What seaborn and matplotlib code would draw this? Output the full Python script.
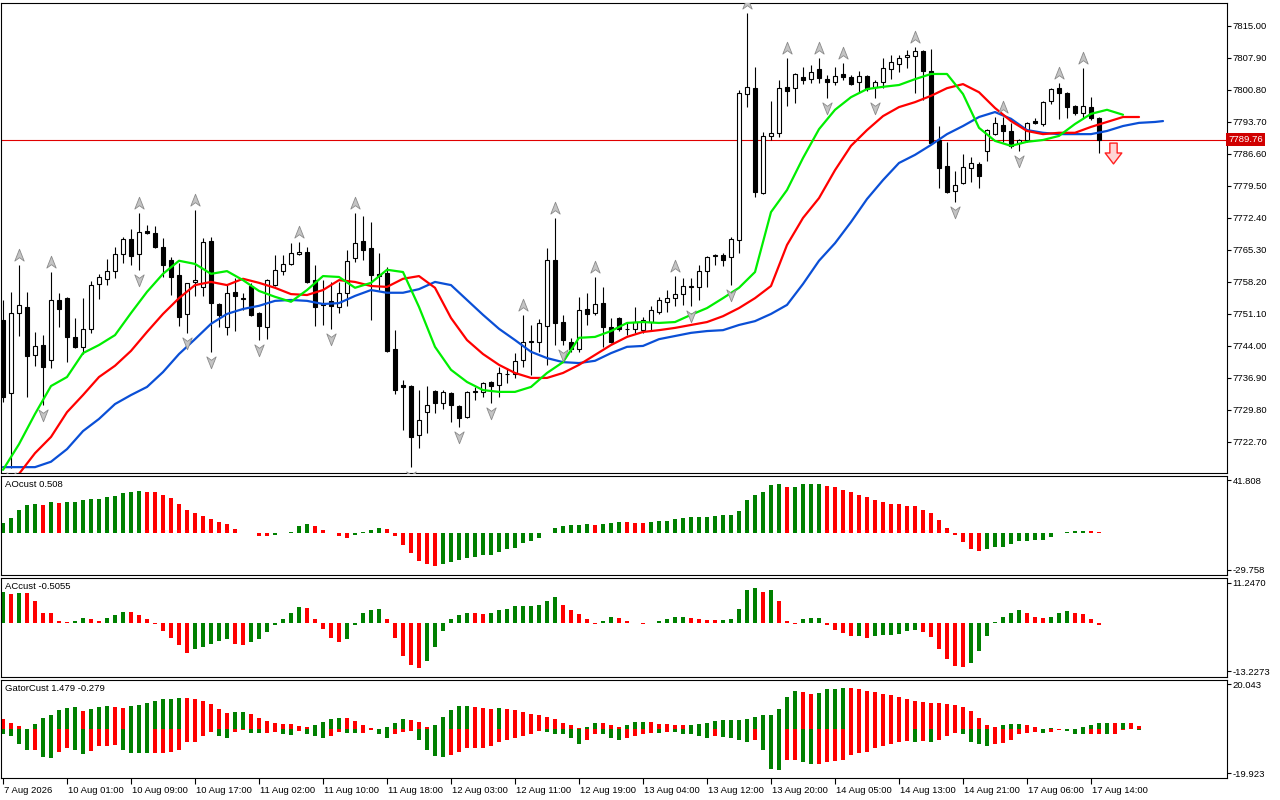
import numpy as np
import matplotlib
matplotlib.use("Agg")
import matplotlib.pyplot as plt
from matplotlib.path import Path
from matplotlib import transforms
import seaborn as sns

# ---- H1 candles, oldest first ----
opens = [7749.8, 7733.6, 7751.3, 7752.6, 7742.0, 7744.2, 7740.9, 7754.2, 7754.6, 7746.0,
         7743.8, 7747.8, 7757.7, 7758.9, 7760.6, 7764.4, 7767.7, 7764.4, 7769.5, 7769.1,
         7766.0, 7763.1, 7759.7, 7751.1, 7758.2, 7757.1, 7767.3, 7753.3, 7748.2, 7756.0,
         7754.6, 7757.3, 7751.3, 7748.2, 7757.5, 7760.6, 7762.2, 7764.4, 7764.9, 7758.6,
         7753.5, 7754.0, 7752.6, 7755.8, 7763.5, 7767.3, 7765.7, 7760.0, 7760.2, 7743.3,
         7735.3, 7735.1, 7724.2, 7729.3, 7734.0, 7731.3, 7733.6, 7730.7, 7728.2, 7733.8,
         7733.8, 7736.0, 7735.3, 7737.8, 7737.8, 7740.9, 7744.9, 7744.9, 7748.4, 7763.1,
         7749.3, 7744.9, 7743.3, 7752.2, 7751.3, 7753.5, 7748.2, 7750.2, 7747.8, 7747.8,
         7747.5, 7749.3, 7751.5, 7753.8, 7754.6, 7755.5, 7757.1, 7757.1, 7760.6, 7764.0,
         7764.2, 7763.7, 7767.5, 7799.9, 7801.2, 7778.0, 7790.6, 7791.3, 7801.5, 7801.2,
         7803.7, 7803.2, 7805.5, 7803.2, 7802.6, 7804.35, 7803.7, 7802.6, 7803.9, 7801.5,
         7802.6, 7805.5, 7806.6, 7808.1, 7808.3, 7809.5, 7805.0, 7789.7, 7783.9, 7778.4,
         7780.2, 7783.5, 7784.4, 7787.3, 7791.0, 7793.0, 7791.7, 7789.0, 7789.7, 7793.9,
         7793.25, 7798.4, 7801.2, 7800.1, 7797.2, 7795.7, 7797.0, 7794.6]
highs = [7754.2, 7756.0, 7762.0, 7756.0, 7747.1, 7746.4, 7760.4, 7755.8, 7754.8, 7750.2,
         7754.6, 7758.4, 7760.0, 7763.3, 7766.0, 7768.2, 7769.9, 7773.5, 7770.8, 7770.6,
         7768.0, 7763.7, 7762.4, 7758.0, 7774.2, 7768.0, 7768.2, 7753.5, 7757.5, 7759.1,
         7755.8, 7758.0, 7751.5, 7758.8, 7764.2, 7764.2, 7766.8, 7767.1, 7766.0, 7762.0,
         7758.6, 7758.2, 7758.2, 7765.3, 7773.5, 7772.8, 7771.5, 7764.6, 7761.5, 7747.5,
         7736.4, 7735.3, 7734.2, 7735.1, 7734.2, 7734.2, 7733.8, 7730.9, 7733.9, 7734.9,
         7736.0, 7736.2, 7739.3, 7739.1, 7742.4, 7750.9, 7748.65, 7750.0, 7765.7, 7772.4,
         7750.9, 7745.8, 7754.9, 7755.8, 7759.3, 7757.1, 7750.2, 7750.4, 7749.1, 7752.6,
         7750.4, 7752.9, 7754.9, 7756.4, 7759.5, 7759.1, 7759.1, 7762.0, 7764.0, 7764.4,
         7764.6, 7768.2, 7800.8, 7817.9, 7805.9, 7791.5, 7798.4, 7803.0, 7807.9, 7804.6,
         7805.9, 7806.3, 7807.9, 7804.1, 7805.9, 7806.8, 7804.1, 7805.0, 7804.1, 7803.0,
         7807.9, 7808.6, 7808.6, 7809.7, 7810.3, 7809.7, 7809.9, 7792.8, 7789.3, 7782.8,
         7786.6, 7785.9, 7784.8, 7792.1, 7794.8, 7794.8, 7793.5, 7789.9, 7793.7, 7794.6,
         7798.3, 7801.2, 7802.4, 7800.3, 7797.4, 7805.7, 7799.25, 7794.8]
lows = [7731.5, 7717.0, 7746.2, 7732.7, 7739.6, 7730.9, 7739.1, 7748.2, 7740.4, 7743.6,
        7742.2, 7746.9, 7754.4, 7757.5, 7759.1, 7762.4, 7762.0, 7760.9, 7768.9, 7765.7,
        7759.3, 7755.3, 7748.4, 7746.9, 7755.1, 7755.1, 7742.7, 7748.2, 7746.4, 7747.3,
        7752.0, 7750.7, 7745.3, 7745.5, 7757.3, 7759.7, 7762.0, 7764.2, 7758.0, 7748.4,
        7748.65, 7747.8, 7751.3, 7752.9, 7762.6, 7763.1, 7749.8, 7756.4, 7742.7, 7733.3,
        7725.3, 7717.1, 7721.4, 7724.7, 7729.1, 7730.0, 7727.1, 7726.0, 7728.0, 7732.0,
        7732.7, 7731.3, 7732.7, 7735.8, 7736.9, 7739.3, 7737.6, 7742.7, 7739.8, 7744.2,
        7744.2, 7742.7, 7742.7, 7748.65, 7750.9, 7743.8, 7744.7, 7747.3, 7746.4, 7746.9,
        7746.9, 7747.5, 7751.1, 7751.5, 7752.9, 7753.1, 7752.9, 7754.2, 7757.1, 7762.0,
        7761.7, 7757.5, 7764.6, 7797.0, 7777.1, 7777.8, 7789.7, 7790.4, 7797.2, 7797.9,
        7802.1, 7802.4, 7802.4, 7799.0, 7801.9, 7803.0, 7801.9, 7800.4, 7800.6, 7799.0,
        7801.2, 7803.2, 7804.8, 7805.7, 7800.1, 7798.6, 7788.8, 7779.05, 7778.0, 7775.9,
        7780.0, 7780.4, 7779.05, 7785.0, 7790.8, 7789.3, 7787.9, 7787.3, 7789.3, 7793.25,
        7792.8, 7797.7, 7794.4, 7794.6, 7795.2, 7794.6, 7794.1, 7786.8]
closes = [7732.7, 7751.3, 7753.1, 7741.8, 7744.0, 7739.3, 7754.2, 7752.2, 7746.0, 7743.8,
          7747.8, 7757.5, 7759.3, 7760.6, 7764.4, 7767.7, 7764.0, 7769.3, 7769.1, 7766.0,
          7762.0, 7759.3, 7750.4, 7758.0, 7758.6, 7767.1, 7753.5, 7750.9, 7755.8, 7755.1,
          7754.4, 7750.9, 7748.4, 7758.6, 7760.9, 7762.2, 7764.6, 7764.9, 7758.2, 7752.6,
          7753.1, 7752.9, 7755.8, 7762.9, 7766.8, 7765.3, 7759.7, 7759.5, 7742.9, 7734.2,
          7734.9, 7723.8, 7727.6, 7730.9, 7731.3, 7733.8, 7730.9, 7728.0, 7733.8, 7733.9,
          7735.8, 7735.1, 7738.0, 7737.7, 7740.7, 7744.9, 7745.0, 7749.1, 7763.1, 7749.1,
          7745.3, 7743.3, 7752.0, 7751.1, 7753.3, 7748.2, 7744.9, 7747.8, 7747.7, 7749.3,
          7749.8, 7752.0, 7754.2, 7754.6, 7755.5, 7757.3, 7757.2, 7760.6, 7763.7, 7764.1,
          7763.1, 7767.7, 7800.1, 7801.5, 7778.2, 7790.6, 7791.3, 7801.2, 7800.6, 7804.3,
          7803.0, 7804.8, 7803.5, 7802.6, 7803.9, 7803.7, 7802.1, 7803.9, 7801.0, 7802.6,
          7805.7, 7807.0, 7807.9, 7808.6, 7809.5, 7805.0, 7789.0, 7783.5, 7778.2, 7779.7,
          7783.7, 7784.6, 7781.7, 7791.9, 7793.5, 7791.7, 7788.4, 7789.7, 7793.5, 7793.5,
          7798.1, 7801.0, 7800.1, 7797.0, 7795.7, 7797.2, 7794.6, 7789.76]

# ---- Alligator (already shifted forward), read every 2 bars ----
jaw_bars = list(range(0, 145, 2)) + [145]
jaw = [7717.1, 7717.1, 7717.1, 7718.3, 7721.1, 7725.1, 7727.8, 7731.1, 7733.1, 7734.9,
       7738.2, 7742.2, 7745.5, 7748.9, 7751.1, 7752.2, 7752.9, 7754.0, 7754.2, 7754.0,
       7753.3, 7753.5, 7755.1, 7756.4, 7755.8, 7755.8, 7756.6, 7758.2, 7757.5, 7754.2,
       7750.9, 7747.8, 7745.3, 7742.7, 7741.3, 7740.4, 7740.2, 7740.7, 7742.4, 7743.8,
       7744.0, 7745.5, 7746.2, 7746.9, 7747.3, 7747.5, 7748.65, 7749.5, 7751.1, 7753.1,
       7757.75, 7762.9, 7766.8, 7771.5, 7776.6, 7780.8, 7784.6, 7786.4, 7788.6, 7791.0,
       7792.8, 7794.8, 7795.9, 7794.4, 7791.9, 7791.3, 7791.0, 7791.0, 7791.0, 7791.7,
       7792.8, 7793.5, 7793.7, 7793.9]
teeth_bars = list(range(0, 143, 2))
teeth = [7712.0, 7715.6, 7720.2, 7723.8, 7729.3, 7733.1, 7737.1, 7739.6, 7742.9, 7747.1,
         7751.1, 7754.6, 7757.5, 7758.2, 7757.5, 7758.9, 7758.0, 7756.9, 7755.5, 7755.3,
         7756.4, 7758.6, 7758.2, 7757.3, 7757.1, 7758.9, 7759.5, 7756.9, 7750.2, 7745.3,
         7742.2, 7739.8, 7738.0, 7736.9, 7736.9, 7738.0, 7739.8, 7742.0, 7744.2, 7746.0,
         7747.1, 7747.5, 7748.0, 7748.65, 7749.3, 7750.6, 7752.4, 7754.6, 7757.3, 7766.4,
         7772.4, 7776.8, 7783.0, 7788.4, 7791.9, 7795.0, 7797.0, 7798.1, 7799.5, 7801.2,
         7802.1, 7800.3, 7796.8, 7793.9, 7791.7, 7791.0, 7791.3, 7791.3, 7792.6, 7793.7,
         7794.8, 7794.8]
lips_bars = list(range(0, 141, 2))
lips = [7716.5, 7722.2, 7728.9, 7735.1, 7737.1, 7742.4, 7744.2, 7746.4, 7751.3, 7756.0,
        7760.0, 7762.9, 7762.2, 7760.0, 7760.6, 7758.6, 7756.2, 7754.9, 7753.8, 7756.4,
        7759.5, 7759.3, 7756.9, 7758.0, 7760.9, 7760.4, 7752.65, 7743.8, 7738.7, 7736.0,
        7734.2, 7733.8, 7733.8, 7734.9, 7738.0, 7740.4, 7745.8, 7746.0, 7747.3, 7749.1,
        7749.3, 7749.1, 7749.3, 7750.9, 7752.4, 7754.6, 7756.9, 7760.4, 7773.7, 7778.6,
        7785.7, 7792.1, 7796.4, 7799.2, 7801.0, 7801.5, 7801.9, 7803.2, 7804.35, 7804.35,
        7799.9, 7792.4, 7789.5, 7788.4, 7789.3, 7789.7, 7790.6, 7793.25, 7795.5, 7796.4,
        7795.3]

fractal_up = [2, 6, 17, 24, 37, 44, 65, 69, 74, 84, 93, 98, 102, 105, 114, 125, 132, 135]
fractal_down = [1, 5, 17, 23, 26, 32, 41, 51, 57, 61, 70, 86, 91, 103, 109, 119, 127]
sell_bar, sell_price = 139, 7786.9
last_price = 7789.76

# ---- oscillators ----
ao = [8.0, 12.0, 18.1, 22.4, 23.2, 22.4, 24.8, 24.0, 24.1, 24.8,
      26.4, 26.5, 26.6, 28.5, 29.3, 32.0, 32.8, 33.6, 32.8, 32.7,
      30.1, 27.5, 23.2, 18.4, 15.7, 13.3, 11.2, 8.8, 7.2, 3.2,
      -0.3, -0.5, -2.7, -2.8, -1.9, -0.5, 0.3, 5.3, 6.7, 5.3,
      2.1, -0.2, -2.7, -4.5, -1.9, 0.8, 2.4, 4.0, 2.9, -2.7,
      -9.9, -16.0, -22.4, -25.3, -26.4, -25.1, -23.7, -21.9, -20.0, -19.7,
      -17.9, -17.8, -15.2, -13.3, -12.0, -8.5, -6.4, -4.0, -0.5, 4.0,
      5.1, 6.1, 6.4, 6.5, 6.1, 7.0, 8.0, 8.8, 8.5, 8.0,
      7.5, 8.8, 8.9, 9.6, 10.7, 11.5, 12.3, 12.4, 12.8, 12.9,
      13.9, 14.1, 17.6, 26.4, 30.1, 32.8, 38.1, 38.9, 36.3, 36.8,
      39.0, 39.1, 39.2, 37.6, 36.5, 34.4, 32.5, 30.1, 28.5, 26.4,
      24.5, 22.9, 22.7, 21.3, 21.2, 18.4, 16.0, 10.4, 4.0, -1.9,
      -7.7, -12.8, -14.4, -13.3, -11.7, -11.2, -9.3, -6.7, -6.4, -6.3,
      -5.6, -3.7, -0.5, 0.4, 1.0, 1.6, 1.3, 0.508]
ac = [8.7, 8.2, 8.5, 8.45, 6.3, 3.0, 2.8, 0.55, 0.5, 0.55,
      1.6, 1.1, 0.8, 1.6, 2.4, 3.2, 3.15, 2.2, 1.1, -0.2,
      -2.0, -4.0, -5.9, -8.1, -7.2, -6.4, -5.6, -4.8, -4.2, -5.6,
      -5.9, -5.1, -4.2, -2.5, -0.55, 1.1, 2.8, 4.6, 4.3, 1.3,
      -1.65, -3.9, -5.2, -4.2, -0.55, 2.8, 3.8, 3.85, 1.1, -4.0,
      -9.0, -11.6, -12.3, -10.3, -6.5, -2.1, 1.1, 2.2, 2.8, 2.75,
      2.5, 3.0, 3.6, 3.9, 4.7, 4.75, 4.8, 5.1, 6.1, 7.2,
      5.2, 3.6, 2.5, 1.1, -0.2, 0.55, 1.7, 1.4, 0.8, 0.1,
      -0.2, 0.1, 0.8, 1.1, 1.7, 1.9, 1.4, 1.1, 1.05, 0.9,
      1.0, 1.1, 3.9, 9.1, 9.9, 8.8, 9.1, 6.1, 0.8, -0.2,
      1.1, 1.4, 1.45, -0.5, -1.7, -2.6, -3.4, -3.35, -4.0, -3.4,
      -3.2, -3.15, -2.9, -2.1, -1.8, -2.4, -3.8, -7.0, -9.8, -11.7,
      -12.0, -10.9, -7.6, -3.5, 0.3, 1.9, 2.8, 3.6, 2.8, 1.7,
      1.4, 1.9, 3.0, 3.3, 3.0, 2.5, 1.1, -0.5055]
gator_up = [4.3, 2.7, 1.5, 0.1, 2.4, 4.9, 6.3, 8.5, 9.6, 10.0,
            8.1, 9.0, 10.0, 10.3, 9.95, 9.4, 10.35, 10.8, 11.7, 12.6,
            13.5, 13.55, 13.9, 13.85, 13.5, 12.6, 11.2, 9.0, 7.2, 7.6,
            7.65, 6.7, 4.9, 3.6, 2.7, 2.2, 2.15, 1.35, 0.9, 1.8,
            3.1, 4.5, 4.9, 4.85, 3.6, 1.8, 0.45, 0.05, 0.9, 2.7,
            4.5, 4.0, 3.1, 0.9, 1.8, 5.4, 8.5, 10.3, 10.35, 9.9,
            9.4, 9.0, 9.45, 9.0, 8.5, 7.6, 6.7, 6.3, 5.4, 4.5,
            2.7, 1.8, 0.45, 0.9, 2.7, 2.65, 1.8, 0.9, 1.8, 3.1,
            3.15, 3.1, 2.2, 2.15, 1.8, 1.75, 1.8, 2.2, 2.7, 3.6,
            4.0, 4.05, 4.1, 4.5, 5.4, 6.3, 6.35, 9.0, 14.4, 17.1,
            16.6, 15.7, 16.2, 18.0, 18.05, 18.4, 18.35, 18.0, 17.1, 16.6,
            15.7, 15.3, 14.4, 13.5, 12.6, 12.1, 11.7, 11.65, 11.2, 10.8,
            9.9, 8.1, 4.9, 1.8, 0.9, 1.8, 2.2, 2.25, 1.8, 0.9,
            0.05, 0.45, 0.1, 0.05, 0.1, 0.9, 1.8, 2.7, 2.75, 2.7,
            2.75, 2.7, 1.479]
gator_down = [-2.1, -3.4, -7.0, -9.4, -9.3, -12.4, -13.0, -10.3, -8.5, -9.4,
              -11.1, -9.9, -7.9, -7.5, -7.4, -9.4, -10.6, -10.65, -10.9, -10.85,
              -10.6, -10.2, -9.7, -6.1, -5.7, -3.0, -1.35, -3.0, -3.9, -1.2,
              -0.45, -1.65, -1.7, -1.65, -1.2, -2.5, -2.55, -0.75, -2.1, -3.0,
              -3.9, -3.4, -1.2, -1.65, -1.7, -1.65, -0.3, -2.5, -4.3, -2.5,
              -1.2, -0.75, -5.2, -9.3, -12.0, -12.4, -11.5, -10.2, -8.8, -8.75,
              -8.4, -7.5, -6.1, -4.8, -3.9, -3.4, -2.1, -1.0, -1.2, -2.1,
              -2.5, -4.3, -7.0, -5.2, -2.1, -2.5, -3.9, -4.8, -3.9, -3.0,
              -2.5, -1.65, -1.7, -1.2, -1.25, -2.1, -2.5, -3.4, -3.9, -3.4,
              -3.45, -4.3, -5.2, -5.7, -5.2, -9.3, -17.8, -18.3, -13.8, -13.75,
              -14.7, -15.6, -15.55, -14.7, -14.2, -13.8, -11.5, -10.6, -10.2, -8.8,
              -7.9, -6.6, -5.7, -5.65, -5.7, -5.65, -5.7, -4.8, -3.4, -1.65,
              -2.1, -5.7, -7.0, -7.5, -6.6, -6.55, -4.8, -2.5, -1.65, -1.2,
              -1.65, -1.2, -0.3, -0.75, -2.1, -2.5, -2.45, -2.1, -2.5, -2.1,
              -0.3, -0.1, -0.279]

price_ticks = [7815.00, 7807.90, 7800.80, 7793.70, 7786.60, 7779.50, 7772.40,
               7765.30, 7758.20, 7751.10, 7744.00, 7736.90, 7729.80, 7722.70]
time_labels = ["7 Aug 2026", "10 Aug 01:00", "10 Aug 09:00", "10 Aug 17:00", "11 Aug 02:00",
               "11 Aug 10:00", "11 Aug 18:00", "12 Aug 03:00", "12 Aug 11:00", "12 Aug 19:00",
               "13 Aug 04:00", "13 Aug 12:00", "13 Aug 20:00", "14 Aug 05:00", "14 Aug 13:00",
               "14 Aug 21:00", "17 Aug 06:00", "17 Aug 14:00"]

GREEN, RED = "#008000", "#ff0000"

sns.set_theme(style="white")
plt.rcParams["font.family"] = ["Liberation Sans", "DejaVu Sans"]
plt.rcParams["axes.linewidth"] = 0.8

W, H = 1280, 800
fig = plt.figure(figsize=(W / 100, H / 100), dpi=100)


def panel(top, bottom):
    return fig.add_axes([1 / W, 1 - bottom / H, 1226 / W, (bottom - top) / H])


ax = panel(3, 473)
ax_ao = panel(476, 575)
ax_ac = panel(578, 677)
ax_g = panel(680, 778)

for a in (ax, ax_ao, ax_ac, ax_g):
    a.set_xlim(-0.25, 153)
    for s in a.spines.values():
        s.set_color("black")
        s.set_linewidth(0.8)
    a.yaxis.tick_right()
    a.tick_params(axis="y", direction="out", length=3, width=0.8, pad=1,
                  labelsize=6.8, colors="black", right=True, left=False)
    a.set_xlabel("")
    a.set_ylabel("")

# ---- main price panel ----
o = np.array(opens)
c = np.array(closes)
x = np.arange(len(o))
bull = c >= o
ax.axhline(last_price, color="#e00000", lw=0.8, zorder=1)
ax.vlines(x, lows, highs, color="black", lw=0.8, zorder=2)
ax.bar(x[bull], (c - o)[bull], bottom=o[bull], width=0.6, facecolor="white",
       edgecolor="black", linewidth=0.8, zorder=3)
ax.bar(x[~bull], (o - c)[~bull], bottom=c[~bull], width=0.6, facecolor="black",
       edgecolor="black", linewidth=0.8, zorder=3)

sns.lineplot(x=jaw_bars, y=jaw, ax=ax, color="#0a4fd6", lw=1.6, zorder=4, sort=False)
sns.lineplot(x=teeth_bars, y=teeth, ax=ax, color="#ff0000", lw=1.6, zorder=4, sort=False)
sns.lineplot(x=lips_bars, y=lips, ax=ax, color="#00ee00", lw=1.6, zorder=4, sort=False)

head = Path([(0, 1), (0.75, -0.9), (0, -0.35), (-0.75, -0.9), (0, 1)],
            [Path.MOVETO, Path.LINETO, Path.LINETO, Path.LINETO, Path.CLOSEPOLY])
head_dn = head.transformed(transforms.Affine2D().scale(1, -1))
up_tr = transforms.offset_copy(ax.transData, fig=fig, x=0, y=10, units="dots")
dn_tr = transforms.offset_copy(ax.transData, fig=fig, x=0, y=-10, units="dots")
ax.plot(fractal_up, [highs[i] for i in fractal_up], ls="none", marker=head, ms=9,
        mfc="#c4c4c4", mec="#8a8a8a", mew=0.6, transform=up_tr, zorder=5)
ax.plot(fractal_down, [lows[i] for i in fractal_down], ls="none", marker=head_dn, ms=9,
        mfc="#c4c4c4", mec="#8a8a8a", mew=0.6, transform=dn_tr, zorder=5)

block = Path([(-0.35, 1), (0.35, 1), (0.35, 0.05), (0.8, 0.05), (0, -1), (-0.8, 0.05),
              (-0.35, 0.05), (-0.35, 1)],
             [Path.MOVETO] + [Path.LINETO] * 6 + [Path.CLOSEPOLY])
ax.plot([sell_bar - 0.25], [sell_price], ls="none", marker=block, ms=15, mfc="#ffd4d4",
        mec="#ff2020", mew=1.0, zorder=5)

ax.set_ylim(7715.8, 7820.1)
ax.set_yticks(price_ticks)
ax.set_yticklabels([f"{p:.2f}" for p in price_ticks])
ax.set_xticks([])
ax.text(1.0012, last_price, f"{last_price:.2f}", color="white", fontsize=6.8,
        va="center", ha="left",
        transform=transforms.blended_transform_factory(ax.transAxes, ax.transData),
        bbox=dict(boxstyle="square,pad=0.22", fc="#d00000", ec="none"), zorder=6,
        clip_on=False)


# ---- oscillator panels ----
def trend_colors(vals, first, grow=lambda a, b: b > a):
    cols = [first]
    for a, b in zip(vals[:-1], vals[1:]):
        cols.append(GREEN if grow(a, b) else RED)
    return cols


ax_ao.bar(np.arange(len(ao)), ao, width=0.5, color=trend_colors(ao, GREEN), linewidth=0)
ax_ao.set_ylim(-34.0, 45.2)
ax_ao.set_yticks([41.808, -29.758])
ax_ao.set_yticklabels(["41.808", "-29.758"])
ax_ao.set_xticks([])
ax_ao.text(0.0035, 0.955, "AOcust 0.508", transform=ax_ao.transAxes, fontsize=6.8,
           va="top", ha="left", color="black")

ax_ac.bar(np.arange(len(ac)), ac, width=0.5, color=trend_colors(ac, GREEN), linewidth=0)
ax_ac.set_ylim(-14.8, 12.54)
ax_ac.set_yticks([11.2470, -13.2273])
ax_ac.set_yticklabels(["11.2470", "-13.2273"])
ax_ac.set_xticks([])
ax_ac.text(0.0035, 0.955, "ACcust -0.5055", transform=ax_ac.transAxes, fontsize=6.8,
           va="top", ha="left", color="black")

gx = np.arange(len(gator_up))
ax_g.bar(gx, gator_up, width=0.5, color=trend_colors(gator_up, RED), linewidth=0)
ax_g.bar(gx, gator_down, width=0.5,
         color=trend_colors(gator_down, GREEN, lambda a, b: abs(b) > abs(a)), linewidth=0)
ax_g.set_ylim(-22.05, 21.96)
ax_g.set_yticks([20.043, -19.923])
ax_g.set_yticklabels(["20.043", "-19.923"])
ax_g.text(0.0035, 0.955, "GatorCust 1.479 -0.279", transform=ax_g.transAxes, fontsize=6.8,
          va="top", ha="left", color="black")

tick_pos = np.arange(0, 8 * len(time_labels), 8)
ax_g.set_xticks(tick_pos)
ax_g.set_xticklabels(time_labels, ha="left", fontsize=6.8)
ax_g.tick_params(axis="x", direction="out", length=4, width=0.8, pad=2, bottom=True,
                 colors="black")
shift = transforms.ScaledTranslation(1 / 100, 0, fig.dpi_scale_trans)
for lbl in ax_g.get_xticklabels():
    lbl.set_transform(lbl.get_transform() + shift)

fig.savefig("out.png", dpi=100, facecolor="white")
